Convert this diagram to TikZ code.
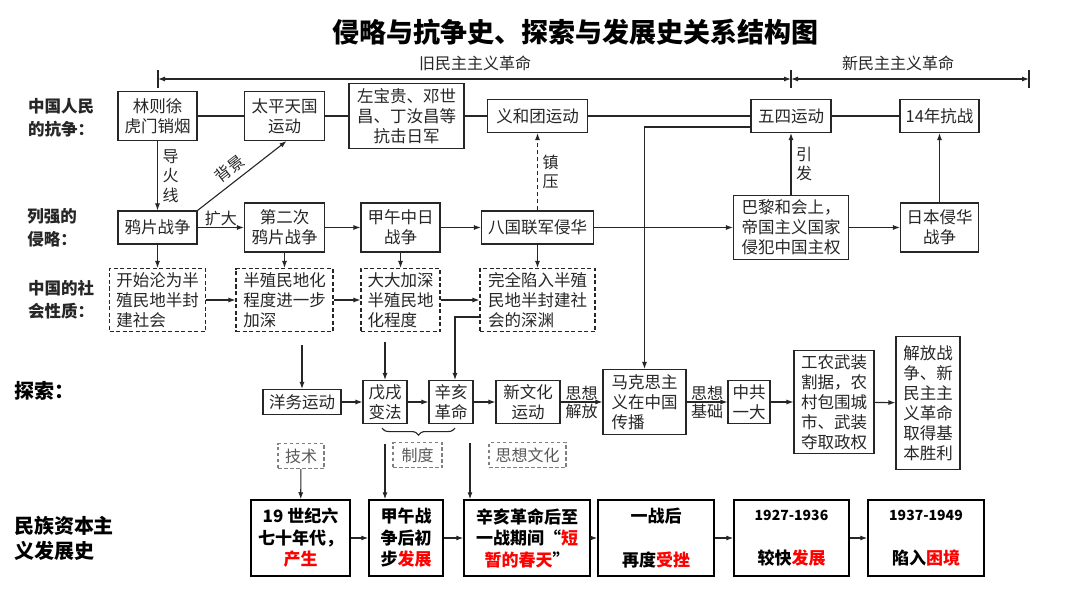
\documentclass[tikz,border=0pt]{standalone}
\usepackage{fontspec}
\setmainfont{Noto Sans CJK SC}
\usepackage{tikz}
\usetikzlibrary{arrows.meta,decorations.pathreplacing}
\tikzset{
    event-box/.style = {draw=black!85, line width=1.1pt, fill=white, rectangle, inner sep=2pt, align=center, text=black!85, font=\fontsize{16.5}{20}\selectfont},
    nature-box/.style = {event-box, dash pattern=on 4pt off 2.5pt, align=left},
    aspect-box/.style = {draw=black!50, line width=1.1pt, dash pattern=on 3.5pt off 2.5pt, rectangle, inner sep=2pt, text=black!65, font=\fontsize{16}{20}\selectfont},
    stage-box/.style = {draw=black, line width=1.5pt, rectangle, inner sep=2pt, align=center, font=\bfseries\fontsize{17}{21.5}\selectfont},
    row-title/.style = {align=left, text=black!85, font=\bfseries\fontsize{16.5}{23}\selectfont},
    part-title/.style = {align=left, font=\bfseries\fontsize{20}{25}\selectfont},
    flow-arrow/.style = {draw=black!85, line width=1.1pt, -{Latex[length=7pt,width=5pt]}},
    flow-line/.style = {draw=black!85, line width=1.1pt},
    side-note/.style = {inner sep=1.5pt, align=center, text=black!85, font=\fontsize{16}{19.5}\selectfont},
}

\begin{document}
\begin{tikzpicture}[x=1pt, y=-1pt]
\path[use as bounding box, fill=white] (0,0) rectangle (1080,607);

\node[font=\bfseries\fontsize{27}{30}\selectfont] (title) at (575,32) {侵略与抗争史、探索与发展史关系结构图};

% timeline
\coordinate (old-start) at (158,79);
\coordinate (old-end) at (791,79);
\coordinate (new-end) at (1029,79);
\foreach \t in {old-start, old-end, new-end}
    \draw[flow-line] ([yshift=9pt]\t) -- ([yshift=-9pt]\t);
\draw[flow-line, {Latex[length=7pt,width=5pt]}-{Latex[length=7pt,width=5pt]}] (old-start) -- (old-end);
\draw[flow-line, {Latex[length=7pt,width=5pt]}-{Latex[length=7pt,width=5pt]}] (old-end) -- (new-end);
\node[side-note] (old-label) at (475,63) {旧民主主义革命};
\node[side-note] (new-label) at (898,63) {新民主主义革命};

% row titles
\node[row-title] (struggle-title) at (61,118) {中国人民\\的抗争：};
\node[row-title] (invasion-title) at (52,228) {列强的\\侵略：};
\node[row-title] (nature-title) at (61,300) {中国的社\\会性质：};
\node[part-title] (explore-title) at (45,391) {探索：};
\node[part-title] (capital-title) at (64,538) {民族资本主\\义发展史};

% struggle row
\node[event-box, minimum width=79, minimum height=49] (lin) at (157.5,116) {林则徐\\虎门销烟};
\node[event-box, minimum width=80, minimum height=49] (taiping) at (284.5,116) {太平天国\\运动};
\node[event-box, minimum width=115, minimum height=65] (zuo) at (406.5,116) {左宝贵、邓世\\昌、丁汝昌等\\抗击日军};
\node[event-box, minimum width=100, minimum height=33] (yihe) at (537.5,116) {义和团运动};
\node[event-box, minimum width=80, minimum height=33] (wusi) at (791,116) {五四运动};
\node[event-box, minimum width=79, minimum height=33] (kangzhan) at (939.5,116) {14年抗战};
\draw[flow-line] (lin) -- (taiping) -- (zuo) -- (yihe) -- (wusi) -- (kangzhan);

% invasion row
\node[event-box, minimum width=79, minimum height=33] (yapian) at (157.5,227.5) {鸦片战争};
\node[event-box, minimum width=80, minimum height=49] (dier) at (284.5,227.5) {第二次\\鸦片战争};
\node[event-box, minimum width=79, minimum height=49] (jiawu) at (400.5,227.5) {甲午中日\\战争};
\node[event-box, minimum width=112, minimum height=33] (baguo) at (537.5,227.5) {八国联军侵华};
\node[event-box, minimum width=115, minimum height=64] (bali) at (791,227.5) {巴黎和会上，\\帝国主义国家\\侵犯中国主权};
\node[event-box, minimum width=78, minimum height=49] (riben) at (939.5,227.5) {日本侵华\\战争};
\draw[flow-arrow] (yapian) -- node[side-note, above] {扩大} (dier);
\draw[flow-arrow] (dier) -- (jiawu);
\draw[flow-arrow] (jiawu) -- (baguo);
\draw[flow-arrow] (baguo) -- (bali);
\draw[flow-arrow] (bali) -- (riben);
\draw[flow-arrow] (lin) -- node[side-note, right=3pt] {导\\火\\线} (yapian);
\draw[flow-arrow] (yapian.north east) -- node[side-note, sloped, above=4pt, pos=0.45] {背景} ([xshift=2pt]taiping.south);
\draw[flow-arrow, dash pattern=on 4pt off 3pt] (baguo) -- node[side-note, right=3pt] {镇\\压} (yihe);
\draw[flow-arrow] (bali) -- node[side-note, right=3pt] {引\\发} (wusi);
\draw[flow-arrow] (riben) -- (kangzhan);

% nature row
\node[nature-box, minimum width=96, minimum height=63] (kaishi) at (157.5,300) {开始沦为半\\殖民地半封\\建社会};
\node[nature-box, minimum width=97, minimum height=63] (banzhi) at (284.5,300) {半殖民地化\\程度进一步\\加深};
\node[nature-box, minimum width=79, minimum height=63] (dada) at (400.5,300) {大大加深\\半殖民地\\化程度};
\node[nature-box, minimum width=115, minimum height=63] (wanquan) at (537.5,300) {完全陷入半殖\\民地半封建社\\会的深渊};
\draw[flow-arrow] (yapian) -- (kaishi);
\draw[flow-arrow] (dier) -- (banzhi);
\draw[flow-arrow] (jiawu) -- (dada);
\draw[flow-arrow] (baguo) -- (wanquan);
\draw[flow-arrow] (kaishi) -- (banzhi);
\draw[flow-arrow] (banzhi) -- (dada);
\draw[flow-arrow] (dada) -- (wanquan);

% exploration row
\node[event-box, minimum width=78, minimum height=25] (yangwu) at (302,402) {洋务运动};
\node[event-box, minimum width=44, minimum height=43] (wuxu) at (385,402) {戊戌\\变法};
\node[event-box, minimum width=44, minimum height=43] (xinhai) at (451,402) {辛亥\\革命};
\node[event-box, minimum width=64, minimum height=43] (xinwenhua) at (528,402) {新文化\\运动};
\node[event-box, align=left, minimum width=83, minimum height=65] (makesi) at (644.5,402) {马克思主\\义在中国\\传播};
\node[event-box, minimum width=42, minimum height=43] (zhonggong) at (749,402) {中共\\一大};
\node[event-box, align=left, minimum width=80, minimum height=103] (gongnong) at (834,402) {工农武装\\割据，农\\村包围城\\市、武装\\夺取政权};
\node[event-box, align=left, minimum width=64, minimum height=133] (jiefang) at (928,403) {解放战\\争、新\\民主主\\义革命\\取得基\\本胜利};
\draw[flow-arrow] (yangwu) -- (wuxu);
\draw[flow-arrow] (wuxu) -- (xinhai);
\draw[flow-arrow] (xinhai) -- (xinwenhua);
\draw[flow-arrow] (xinwenhua) -- node[side-note, above] {思想} node[side-note, below] {解放} (makesi);
\draw[flow-arrow] (makesi) -- node[side-note, above] {思想} node[side-note, below] {基础} (zhonggong);
\draw[flow-arrow] (zhonggong) -- (gongnong);
\draw[flow-arrow] (gongnong) -- (jiefang);

\coordinate (yangwu-in) at (302,345);
\coordinate (wuxu-in) at (385,342);
\draw[flow-arrow] (yangwu-in) -- (yangwu.north);
\draw[flow-arrow] (wuxu-in) -- (wuxu.north);
\draw[flow-arrow] ([yshift=-17pt]wanquan.west) -| ([xshift=4pt]xinhai.north);
\draw[flow-arrow] ([yshift=-11pt]wusi.west) -| (makesi.north);
\draw[flow-line, decorate, decoration={brace, mirror, amplitude=7pt}] ([xshift=-3pt, yshift=-4pt]wuxu.south) -- ([xshift=4pt, yshift=-4pt]xinhai.south);

% aspects
\node[aspect-box, minimum width=46, minimum height=25] (jishu) at (301,456) {技术};
\node[aspect-box, minimum width=49, minimum height=25] (zhidu) at (417.5,455) {制度};
\node[aspect-box, minimum width=77, minimum height=25] (sixiang) at (527.5,455) {思想文化};

% capitalism row
\node[stage-box, minimum width=99, minimum height=76] (chansheng) at (300.5,538) {19 世纪六\\七十年代，\\\textcolor{red}{产生}};
\node[stage-box, minimum width=74, minimum height=76] (chubu) at (406,538) {甲午战\\争后初\\步\textcolor{red}{发展}};
\node[stage-box, minimum width=126, minimum height=76] (chuntian) at (527,538) {辛亥革命后至\\一战期间“\textcolor{red}{短}\\\textcolor{red}{暂的春天}”};
\node[stage-box, minimum width=116, minimum height=76] (cuozhe) at (656,538) {一战后\\[22pt]再度\textcolor{red}{受挫}};
\node[stage-box, minimum width=115, minimum height=76] (jiaokuai) at (791.5,538) {{\fontsize{14}{17}\selectfont 1927-1936}\\[22pt]较快\textcolor{red}{发展}};
\node[stage-box, minimum width=116, minimum height=76] (kunjing) at (926,538) {{\fontsize{14}{17}\selectfont 1937-1949}\\[22pt]陷入\textcolor{red}{困境}};
\draw[flow-arrow] (chansheng) -- (chubu);
\draw[flow-arrow] (chubu) -- (chuntian);
\draw[flow-arrow] (chuntian) -- (cuozhe);
\draw[flow-arrow] (cuozhe) -- (jiaokuai);
\draw[flow-arrow] (jiaokuai) -- (kunjing);

\coordinate (zhidu-out) at (385,444);
\coordinate (sixiang-out) at (470,443);
\draw[flow-arrow] (jishu) -- (chansheng);
\draw[flow-arrow] (zhidu-out) -- (zhidu-out |- chubu.north);
\draw[flow-arrow] (sixiang-out) -- (sixiang-out |- chuntian.north);
\end{tikzpicture}
\end{document}
